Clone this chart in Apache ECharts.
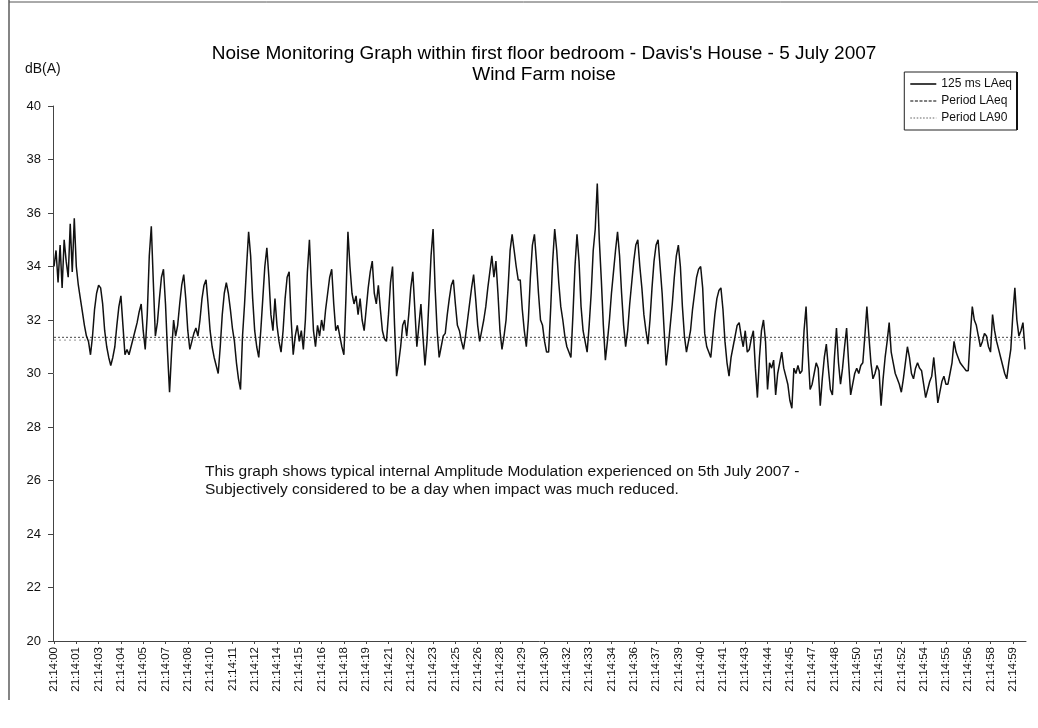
<!DOCTYPE html>
<html>
<head>
<meta charset="utf-8">
<title>Noise Monitoring Graph - Davis's House - 5 July 2007</title>
<script src="https://cdn.jsdelivr.net/npm/echarts@6/dist/echarts.min.js"></script>
<style>
  html, body { margin: 0; padding: 0; background: #ffffff; }
  #chart { width: 1038px; height: 728px; }
</style>
</head>
<body>
<div id="chart"></div>
<script>
// 125 ms LAeq samples, 21:14:00 - 21:14:59 (ten samples per row)
const laeq125 = [
  34.0, 34.6, 33.4, 34.8, 33.2, 35.0, 34.2, 33.6, 35.6, 33.8,
  35.8, 34.0, 33.3, 32.8, 32.3, 31.8, 31.4, 31.2, 30.7, 31.4,
  32.4, 33.0, 33.3, 33.2, 32.6, 31.6, 31.0, 30.6, 30.3, 30.6,
  31.0, 31.8, 32.5, 32.9, 31.8, 30.7, 30.9, 30.7, 31.0, 31.3,
  31.6, 31.9, 32.3, 32.6, 31.6, 30.9, 32.2, 34.4, 35.5, 33.4,
  31.4, 31.9, 32.8, 33.6, 33.9, 32.6, 30.8, 29.3, 30.8, 32.0,
  31.4, 31.8, 32.6, 33.3, 33.7, 32.8, 31.6, 30.9, 31.2, 31.5,
  31.7, 31.4, 32.0, 32.8, 33.3, 33.5, 32.6, 31.6, 31.0, 30.6,
  30.3, 30.0, 31.0, 32.2, 33.0, 33.4, 33.0, 32.4, 31.7, 31.2,
  30.4, 29.8, 29.4, 31.4, 32.6, 34.0, 35.3, 34.4, 32.8, 31.6,
  31.0, 30.6, 31.6, 32.8, 34.0, 34.7, 33.6, 32.2, 31.6, 32.8,
  31.8, 31.2, 30.8, 31.6, 32.8, 33.6, 33.8, 32.0, 30.7, 31.4,
  31.8, 31.2, 31.6, 30.9, 32.0, 33.8, 35.0, 33.2, 31.6, 31.0,
  31.8, 31.4, 32.0, 31.6, 32.4, 33.0, 33.6, 33.9, 32.6, 31.6,
  31.8, 31.4, 31.0, 30.7, 32.8, 35.3, 34.0, 33.0, 32.6, 32.9,
  32.2, 32.8, 32.0, 31.6, 32.4, 33.2, 33.8, 34.2, 33.0, 32.6,
  33.3, 32.4, 31.6, 31.3, 31.2, 32.2, 33.4, 34.0, 31.8, 29.9,
  30.4, 31.0, 31.8, 32.0, 31.4, 32.2, 33.2, 33.8, 32.4, 31.0,
  31.8, 32.6, 31.4, 30.3, 31.2, 32.8, 34.4, 35.4, 33.2, 31.6,
  30.6, 31.0, 31.4, 31.5, 32.2, 32.8, 33.3, 33.5, 32.6, 31.8,
  31.6, 31.2, 30.9, 31.4, 32.0, 32.6, 33.2, 33.7, 32.8, 31.8,
  31.2, 31.6, 32.0, 32.5, 33.2, 33.8, 34.4, 33.6, 34.2, 33.0,
  31.6, 30.9, 31.4, 32.0, 33.2, 34.6, 35.2, 34.6, 34.0, 33.5,
  33.5, 32.4, 31.6, 31.0, 32.0, 33.6, 34.8, 35.2, 34.2, 33.0,
  32.0, 31.8, 31.2, 30.8, 30.8, 32.4, 34.2, 35.4, 34.6, 33.4,
  32.5, 32.0, 31.4, 31.0, 30.8, 30.6, 32.2, 34.0, 35.2, 34.2,
  32.5, 31.6, 31.2, 30.8, 31.8, 33.0, 34.6, 35.4, 37.1, 35.0,
  33.5, 31.8, 30.5, 31.2, 32.0, 33.0, 33.8, 34.6, 35.3, 34.4,
  33.0, 31.8, 31.0, 31.6, 32.6, 33.4, 34.2, 34.8, 35.0, 34.0,
  33.2, 32.2, 31.6, 31.1, 32.0, 33.2, 34.2, 34.8, 35.0, 34.0,
  33.0, 31.6, 30.3, 31.0, 31.8, 32.6, 33.6, 34.4, 34.8, 34.0,
  32.5, 31.4, 30.8, 31.2, 31.6, 32.4, 33.0, 33.6, 33.9, 34.0,
  33.2, 31.5, 31.0, 30.8, 30.6, 31.4, 32.2, 32.8, 33.1, 33.2,
  32.4, 31.2, 30.4, 29.9, 30.6, 31.0, 31.4, 31.8, 31.9, 31.4,
  31.0, 31.6, 30.8, 30.9, 31.3, 31.6, 30.2, 29.1, 30.6, 31.6,
  32.0, 31.2, 29.4, 30.4, 30.2, 30.5, 29.2, 30.0, 30.4, 30.8,
  30.2, 29.9, 29.6, 29.0, 28.7, 30.2, 30.0, 30.3, 30.0, 30.1,
  31.6, 32.5, 30.8, 29.4, 29.6, 30.0, 30.4, 30.2, 28.8, 29.8,
  30.6, 31.1, 30.2, 29.4, 29.2, 30.6, 31.7, 30.4, 29.6, 30.2,
  31.0, 31.7, 30.4, 29.2, 29.6, 30.0, 30.2, 30.0, 30.3, 30.4,
  31.4, 32.5, 31.4, 30.4, 29.8, 30.0, 30.3, 30.1, 28.8, 29.8,
  30.6, 31.2, 31.9, 30.8, 30.4, 30.0, 29.8, 29.6, 29.3, 29.8,
  30.4, 31.0, 30.6, 30.0, 29.8, 30.2, 30.4, 30.2, 30.1, 29.6,
  29.1, 29.4, 29.7, 29.9, 30.6, 29.8, 28.9, 29.3, 29.7, 29.9,
  29.6, 29.6, 30.0, 30.4, 31.2, 30.8, 30.6, 30.4, 30.3, 30.2,
  30.1, 30.1, 31.4, 32.5, 32.0, 31.8, 31.4, 31.0, 31.2, 31.5,
  31.4, 31.0, 30.8, 32.2, 31.6, 31.2, 30.9, 30.6, 30.3, 30.0,
  29.8, 30.4, 30.9, 32.2, 33.2, 32.0, 31.4, 31.6, 31.9, 30.9
];

// Whole-period values (dB(A))
const periodLAeq = 31.35;
const periodLA90 = 31.25;

// Time labels printed under the axis (one every 11 samples)
const timeLabels = [
  '21:14:00', '21:14:01', '21:14:03', '21:14:04', '21:14:05', '21:14:07',
  '21:14:08', '21:14:10', '21:14:11', '21:14:12', '21:14:14', '21:14:15',
  '21:14:16', '21:14:18', '21:14:19', '21:14:21', '21:14:22', '21:14:23',
  '21:14:25', '21:14:26', '21:14:28', '21:14:29', '21:14:30', '21:14:32',
  '21:14:33', '21:14:34', '21:14:36', '21:14:37', '21:14:39', '21:14:40',
  '21:14:41', '21:14:43', '21:14:44', '21:14:45', '21:14:47', '21:14:48',
  '21:14:50', '21:14:51', '21:14:52', '21:14:54', '21:14:55', '21:14:56',
  '21:14:58', '21:14:59'
];
const labelStep = 11;

const titleText = "Noise Monitoring Graph within first floor bedroom - Davis's House - 5 July 2007";
const subtitleText = 'Wind Farm noise';
const unitText = 'dB(A)';
const noteLines = [
  'This graph shows typical internal Amplitude Modulation experienced on 5th July 2007 -',
  'Subjectively considered to be a day when impact was much reduced.'
];
const seriesNames = ['125 ms LAeq', 'Period LAeq', 'Period LA90'];

// One category per 125 ms sample
const sampleIndex = laeq125.map((_, i) => String(i));
const lastIdx = laeq125.length - 1;

const FONT = 'Liberation Sans, Arial, sans-serif';

// Legend keys drawn as thin strokes (solid / dashed / dotted)
function strokeIcon(width, dash, gap) {
  if (!dash) return 'path://M0,0h' + width + 'v1.6h-' + width + 'z';
  let p = 'path://';
  for (let x = 0; x < width; x += dash + gap) {
    const w = Math.min(dash, width - x);
    p += 'M' + x + ',0h' + w + 'v1.6h-' + w + 'z';
  }
  return p;
}

const chart = echarts.init(document.getElementById('chart'), null, { renderer: 'canvas' });

chart.setOption({
  animation: false,
  backgroundColor: '#ffffff',
  title: {
    text: titleText + '\n' + subtitleText,
    left: 539,
    top: 38,
    textAlign: 'center',
    textStyle: { fontFamily: FONT, fontSize: 19, fontWeight: 'normal', color: '#000', lineHeight: 21 }
  },
  legend: {
    orient: 'vertical',
    right: 21,
    top: 72,
    align: 'left',
    itemWidth: 26,
    itemHeight: 8,
    itemGap: 5,
    padding: [6, 5, 6, 6],
    borderColor: '#222',
    borderWidth: 1,
    borderRadius: 0,
    symbolKeepAspect: true,
    textStyle: { fontFamily: FONT, fontSize: 12, color: '#111' },
    data: [
      { name: seriesNames[0], icon: strokeIcon(26, 0, 0) },
      { name: seriesNames[1], icon: strokeIcon(26, 3, 1.5) },
      { name: seriesNames[2], icon: strokeIcon(26, 1.6, 1.6) }
    ]
  },
  grid: { left: 53, right: 12, top: 106, bottom: 87, containLabel: false },
  xAxis: {
    type: 'category',
    data: sampleIndex,
    boundaryGap: true,
    axisLine: { show: true, lineStyle: { color: '#444', width: 1 } },
    axisTick: { show: true, interval: labelStep - 1, length: 3, alignWithLabel: true, lineStyle: { color: '#444' } },
    axisLabel: {
      interval: labelStep - 1,
      rotate: 90,
      margin: 6,
      fontFamily: FONT,
      fontSize: 11.5,
      color: '#111',
      formatter: (v, i) => (i % labelStep === 0 ? (timeLabels[i / labelStep] || '') : '')
    },
    splitLine: { show: false }
  },
  yAxis: {
    type: 'value',
    min: 20,
    max: 40,
    interval: 2,
    axisLine: { show: true, lineStyle: { color: '#444', width: 1 } },
    axisTick: { show: true, length: 5, lineStyle: { color: '#444' } },
    axisLabel: { fontFamily: FONT, fontSize: 13, color: '#111', margin: 12 },
    splitLine: { show: false }
  },
  series: [
    {
      name: seriesNames[0],
      type: 'line',
      data: laeq125,
      symbol: 'none',
      lineStyle: { color: '#111', width: 1.5 },
      itemStyle: { color: '#111' },
      z: 3
    },
    {
      name: seriesNames[1],
      type: 'line',
      data: [[0, periodLAeq], [lastIdx, periodLAeq]],
      symbol: 'none',
      lineStyle: { color: '#666', width: 1.2, type: [2, 2] },
      itemStyle: { color: '#555' },
      z: 2
    },
    {
      name: seriesNames[2],
      type: 'line',
      data: [[0, periodLA90], [lastIdx, periodLA90]],
      symbol: 'none',
      lineStyle: { color: '#aaa', width: 1.2, type: [2, 3] },
      itemStyle: { color: '#999' },
      z: 2
    }
  ],
  graphic: [
    // page frame
    { type: 'line', shape: { x1: 9, y1: 0, x2: 9, y2: 700 }, style: { stroke: '#333', lineWidth: 1.2 } },
    { type: 'line', shape: { x1: 9, y1: 2, x2: 1038, y2: 2 }, style: { stroke: '#555', lineWidth: 1 } },
    // heavier right edge of the legend box
    { type: 'line', shape: { x1: 1017, y1: 72, x2: 1017, y2: 130 }, style: { stroke: '#000', lineWidth: 2 } },
    // unit label above the value axis
    { type: 'text', left: 25, top: 62, style: { text: unitText, font: '14px ' + FONT, fill: '#111' } },
    // annotation
    {
      type: 'text',
      left: 205,
      top: 463,
      style: { text: noteLines.join('\n'), font: '15.5px ' + FONT, fill: '#111', lineHeight: 18 }
    }
  ]
});
</script>
</body>
</html>
